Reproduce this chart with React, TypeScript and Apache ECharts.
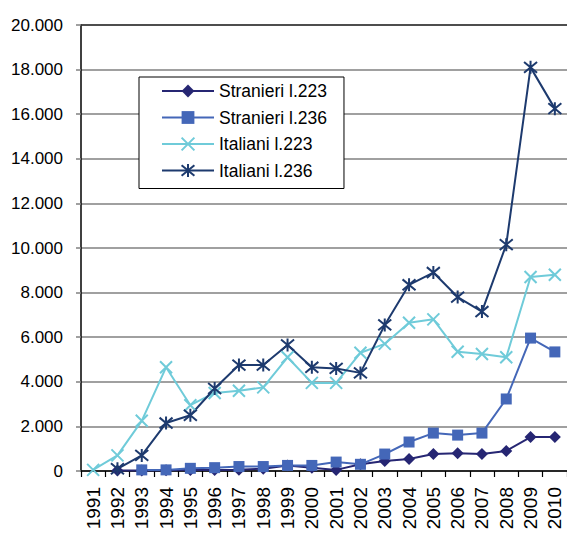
import React, { useEffect, useRef } from "react";
import * as echarts from "echarts";

const years = ["1991","1992","1993","1994","1995","1996","1997","1998","1999","2000","2001","2002","2003","2004","2005","2006","2007","2008","2009","2010"];
const stranieri223 = [null, 20, 20, 30, 40, 50, 60, 100, 250, 150, 50, 300, 450, 540, 760, 800, 760, 900, 1520, 1520];
const stranieri236 = [null, null, 50, 50, 120, 150, 200, 200, 250, 250, 400, 300, 760, 1300, 1700, 1610, 1700, 3230, 5960, 5340];
const italiani223 = [50, 700, 2250, 4650, 2950, 3500, 3600, 3750, 5100, 3950, 3950, 5300, 5700, 6650, 6800, 5350, 5250, 5100, 8700, 8800];
const italiani236 = [null, 100, 700, 2150, 2500, 3700, 4750, 4750, 5650, 4650, 4600, 4400, 6550, 8350, 8900, 7800, 7150, 10150, 18100, 16250];
const seriesNames = ["Stranieri l.223", "Stranieri l.236", "Italiani l.223", "Italiani l.236"];

const FONT = "'Liberation Sans', Arial, sans-serif";
const X_PATH = "path://M0 0L10 10M10 0L0 10";
const STAR_PATH = "path://M0 0L10 10M10 0L0 10M5 -1L5 11";

function fmt(v: number) {
  return String(v).replace(/\B(?=(\d{3})+(?!\d))/g, ".");
}

export default function App() {
  const ref = useRef<HTMLDivElement>(null);
  useEffect(() => {
    if (!ref.current) return;
    const chart = echarts.init(ref.current, undefined, { renderer: "svg" });
    const colors = ["#262673", "#4467b8", "#6fcbd9", "#1d3a6e"];
    chart.setOption({
      animation: false,
      backgroundColor: "#fff",
      grid: { left: 81, right: -7, top: 25, bottom: 63, containLabel: false },
      legend: {
        orient: "vertical",
        left: 139,
        top: 77,
        padding: [5, 17, 9, 22],
        itemWidth: 52,
        itemHeight: 16,
        itemGap: 8.5,
        borderColor: "#000",
        borderWidth: 1,
        backgroundColor: "#fff",
        textStyle: { fontFamily: FONT, fontSize: 17.5, color: "#000", lineHeight: 18 },
        data: seriesNames,
      },
      xAxis: {
        type: "category",
        data: years,
        boundaryGap: true,
        axisLine: { lineStyle: { color: "#000", width: 1.5 } },
        axisTick: { show: true, length: 6, lineStyle: { color: "#000", width: 1.2 } },
        axisLabel: { rotate: 90, margin: 16, fontFamily: FONT, fontSize: 19, color: "#000", interval: 0 },
        splitLine: { show: false },
      },
      yAxis: {
        type: "value",
        min: 0,
        max: 20000,
        interval: 2000,
        axisLine: { show: true, lineStyle: { color: "#000", width: 1.5 } },
        axisTick: { show: true, length: 5, lineStyle: { color: "#808080", width: 1.5 } },
        axisLabel: { margin: 18, fontFamily: FONT, fontSize: 17, color: "#000", formatter: (v: number) => fmt(v) },
        splitLine: { show: true, lineStyle: { color: "#808080", width: 1.5 } },
      },
      series: [
        {
          name: seriesNames[0],
          type: "line",
          data: stranieri223,
          symbol: "diamond",
          symbolSize: 12,
          itemStyle: { color: colors[0] },
          lineStyle: { color: colors[0], width: 2 },
          markLine: {
            silent: true,
            symbol: "none",
            label: { show: false },
            lineStyle: { color: "#333", width: 1.5, type: "solid" },
            data: [{ yAxis: 20000 }],
          },
        },
        {
          name: seriesNames[1],
          type: "line",
          data: stranieri236,
          symbol: "rect",
          symbolSize: 11,
          itemStyle: { color: colors[1] },
          lineStyle: { color: colors[1], width: 2 },
        },
        {
          name: seriesNames[2],
          type: "line",
          data: italiani223,
          symbol: X_PATH,
          symbolSize: 12,
          itemStyle: { color: colors[2], borderColor: colors[2], borderWidth: 2 },
          lineStyle: { color: colors[2], width: 2 },
        },
        {
          name: seriesNames[3],
          type: "line",
          data: italiani236,
          symbol: STAR_PATH,
          symbolSize: 13,
          itemStyle: { color: colors[3], borderColor: colors[3], borderWidth: 2 },
          lineStyle: { color: colors[3], width: 2 },
        },
      ],
    });
    return () => chart.dispose();
  }, []);
  return <div ref={ref} style={{ position: "absolute", left: 0, top: 0, width: 567, height: 534 }} />;
}
